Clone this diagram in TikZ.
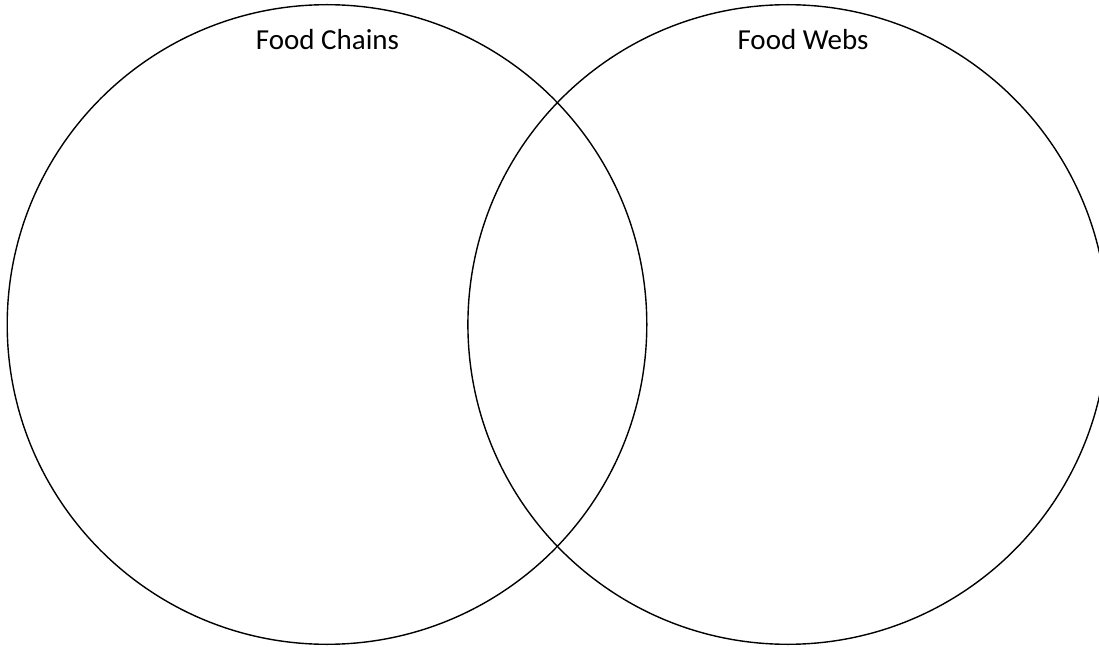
\documentclass[tikz,border=0pt]{standalone}
\usepackage{fontspec}
\setmainfont{Carlito}
\begin{document}
\begin{tikzpicture}[x=1pt,y=1pt,
  ring/.style={draw=black,line width=1.4pt},
  lbl/.style={font=\fontsize{29}{34}\selectfont,anchor=base,inner sep=0pt}]
\useasboundingbox (0,0) rectangle (1099,646);
\begin{scope}
\clip (0,0) rectangle (1099,646);
\draw[ring] (327,321.5) circle (319.8);
\draw[ring] (787.7,321.5) circle (319.8);
\end{scope}
\node[lbl] (chains) at (327.5,596.7) {Food Chains};
\node[lbl] (webs) at (803,596.7) {Food Webs};
\end{tikzpicture}
\end{document}
